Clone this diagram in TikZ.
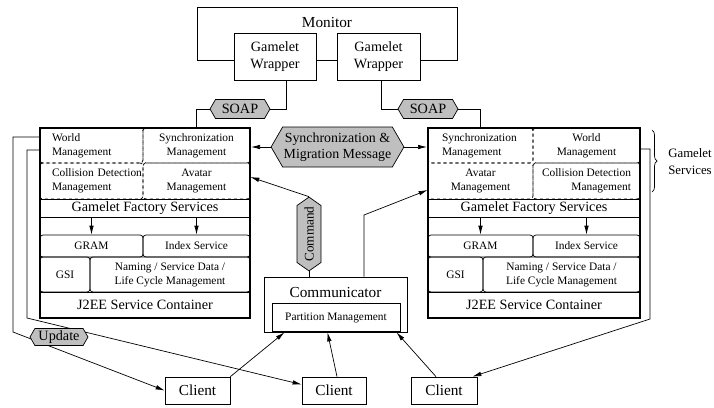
\documentclass[tikz,border=0pt]{standalone}
\usepackage{fontspec}
\setmainfont{Liberation Serif}
\usetikzlibrary{arrows.meta,shapes.symbols,decorations.pathreplacing}

\begin{document}
\begin{tikzpicture}[
    x=1pt, y=-1pt,
    line width=0.7pt,
    >={Latex[length=9pt,width=4.5pt]},
    big text/.style={font=\fontsize{15.3}{17}\selectfont},
    mid text/.style={font=\fontsize{14.2}{17.5}\selectfont},
    cell text/.style={font=\fontsize{11.4}{14}\selectfont},
    plain box/.style={draw, fill=white, inner sep=2pt, align=center},
    svc cell/.style={draw, dashed, rounded corners=3pt, cell text, inner sep=1pt},
    grid cell/.style={draw, rounded corners=3pt, cell text, inner sep=1pt, align=center},
    bar cell/.style={draw, mid text, inner sep=0pt},
    container/.style={draw, line width=2pt, minimum height=190pt},
    msg tag/.style={signal, signal to=east and west, signal pointer angle=120,
        draw, fill=gray!50, inner sep=1pt, mid text},
    link arrow/.style={->}
]
    \useasboundingbox (0,0) rectangle (714,407);

    % monitor and the two wrappers
    \node[plain box, minimum width=260pt, minimum height=53pt,
          label={[big text, anchor=north, inner sep=0pt, yshift=-10pt]north:Monitor}]
        (monitor) at (327,33.5) {};
    \node[plain box, mid text, minimum width=82pt, minimum height=47pt]
        (wrapl) at (275,56.5) {Gamelet\\Wrapper};
    \node[plain box, mid text, minimum width=83pt, minimum height=47pt]
        (wrapr) at (378.5,56.5) {Gamelet\\Wrapper};

    \node[msg tag, minimum width=60pt, minimum height=19pt] (soapl) at (240,109) {SOAP};
    \node[msg tag, minimum width=60pt, minimum height=19pt] (soapr) at (428,109) {SOAP};

    % left service container
    \node[svc cell, text width=79pt, inner xsep=12pt, minimum height=35pt, align=left]
        (lworld) at (91.5,145.5) {World\\Management};
    \node[svc cell, minimum width=107pt, minimum height=35pt, align=center]
        (lsync) at (196.5,145.5) {Synchronization\\Management};
    \node[svc cell, text width=79pt, inner xsep=12pt, minimum height=36pt, align=left]
        (lcoll) at (91.5,181) {\mbox{Collision Detection}\\Management};
    \node[svc cell, minimum width=107pt, minimum height=36pt, align=center]
        (lavatar) at (196.5,181) {Avatar\\Management};
    \node[bar cell, minimum width=210pt, minimum height=18pt]
        (lfactory) at (145,208) {Gamelet Factory Services};
    \node[grid cell, minimum width=103pt, minimum height=22pt] (lgram) at (91.5,246) {GRAM};
    \node[grid cell, minimum width=107pt, minimum height=22pt] (lindex) at (196.5,246) {Index Service};
    \node[grid cell, minimum width=50pt, minimum height=35pt] (lgsi) at (65,274.5) {GSI};
    \node[grid cell, minimum width=160pt, minimum height=35pt]
        (lnaming) at (170,274.5) {Naming / Service Data /\\Life Cycle Management};
    \node[bar cell, minimum width=210pt, minimum height=26pt]
        (lj2ee) at (145,305) {J2EE Service Container};
    \node[container, minimum width=210pt] (lcont) at (145,223) {};

    \draw[link arrow] (lgram.north |- lfactory.south) -- (lgram.north);
    \draw[link arrow] (lindex.north |- lfactory.south) -- (lindex.north);

    % right service container
    \node[svc cell, text width=77pt, inner xsep=14pt, minimum height=35pt, align=left]
        (rsync) at (480.5,145.5) {Synchronization\\Management};
    \node[svc cell, minimum width=107pt, minimum height=35pt, align=center]
        (rworld) at (586.5,145.5) {World\\Management};
    \node[svc cell, minimum width=105pt, minimum height=36pt, align=center]
        (ravatar) at (480.5,181) {Avatar\\Management};
    \node[svc cell, minimum width=107pt, minimum height=36pt, align=right]
        (rcoll) at (586.5,181) {Collision Detection\\Management};
    \node[bar cell, minimum width=212pt, minimum height=18pt]
        (rfactory) at (534,208) {Gamelet Factory Services};
    \node[grid cell, minimum width=105pt, minimum height=22pt] (rgram) at (480.5,246) {GRAM};
    \node[grid cell, minimum width=107pt, minimum height=22pt] (rindex) at (586.5,246) {Index Service};
    \node[grid cell, minimum width=55pt, minimum height=35pt] (rgsi) at (455.5,274.5) {GSI};
    \node[grid cell, minimum width=157pt, minimum height=35pt]
        (rnaming) at (561.5,274.5) {Naming / Service Data /\\Life Cycle Management};
    \node[bar cell, minimum width=212pt, minimum height=26pt]
        (rj2ee) at (534,305) {J2EE Service Container};
    \node[container, minimum width=212pt] (rcont) at (534,223) {};

    \draw[link arrow] (rgram.north |- rfactory.south) -- (rgram.north);
    \draw[link arrow] (rindex.north |- rfactory.south) -- (rindex.north);

    \draw[decorate, decoration={brace, amplitude=5pt}] (652,130) -- (652,192);
    \node[cell text, font=\fontsize{12.8}{17}\selectfont, anchor=west, align=left, inner sep=0pt]
        (gsvc) at (668,161.5) {Gamelet\\Services};

    % messages between the containers
    \node[msg tag, align=center, minimum width=131pt, minimum height=40pt,
          font=\fontsize{13.9}{16.5}\selectfont]
        (syncmsg) at (337.5,147) {Synchronization \&\\Migration Message};
    \node[signal, signal to=north and south, signal pointer angle=110,
          draw, fill=gray!50, inner sep=1pt, minimum width=24pt, minimum height=60pt,
          font=\fontsize{13.2}{15}\selectfont]
        (command) at (309,234) {\rotatebox{90}{Command}};

    % communicator and clients
    \node[plain box, minimum width=143pt, minimum height=55pt,
          label={[big text, anchor=north, inner sep=0pt, yshift=-10pt]north:Communicator}]
        (comm) at (335.5,304.5) {};
    \node[draw, cell text, minimum width=128pt, minimum height=28pt]
        (partition) at (336,317.5) {Partition Management};
    \node[plain box, big text, minimum width=65pt, minimum height=27pt] (client1) at (197.5,390.5) {Client};
    \node[plain box, big text, minimum width=64pt, minimum height=27pt] (client2) at (334,390.5) {Client};
    \node[plain box, big text, minimum width=66pt, minimum height=27pt] (client3) at (444,390.5) {Client};

    \draw ([xshift=11pt]wrapl.south) |- (soapl.east);
    \draw (soapl.west) -| (lsync.north);
    \draw ([xshift=3pt]wrapr.south) |- (soapr.west);
    \draw (soapr.east) -| (rsync.north);

    \draw[link arrow] (syncmsg.west) -- (syncmsg.west -| lcont.east);
    \draw[link arrow] (syncmsg.east) -- (syncmsg.east -| rcont.west);
    \draw[link arrow] (command.north) -- ([yshift=4pt]lavatar.east);
    \draw (command.south) -- (command.south |- comm.north);
    \coordinate (commbend) at (364,215);
    \draw[link arrow] (comm.north -| commbend) -- (commbend) -- ([yshift=-9pt]ravatar.west);

    \draw[link arrow] (client1.north east) -- ([xshift=-51pt]comm.south);
    \draw[link arrow] ([xshift=3pt]client2.north) -- ([xshift=-8pt]comm.south);
    \draw[link arrow] ([xshift=-8pt]client3.north) -- ([xshift=61pt]comm.south);

    % update paths back to the clients
    \coordinate (lbendouter) at (13,332);
    \coordinate (lbendinner) at (27,318);
    \coordinate (rbend) at (650,319);
    \draw[link arrow] ([yshift=8.5pt]lworld.west) -| (lbendouter) -- (client1.west);
    \draw[link arrow] ([yshift=-4.5pt]lworld.west) -| (lbendinner) -- ([yshift=6pt]client2.west);
    \draw[link arrow] ([yshift=-3.5pt]rworld.east) -| (rbend) -- ([xshift=-5pt]client3.north east);
    \node[msg tag, minimum width=58pt, minimum height=17pt] (update) at (59,337) {Update};

\end{tikzpicture}
\end{document}
